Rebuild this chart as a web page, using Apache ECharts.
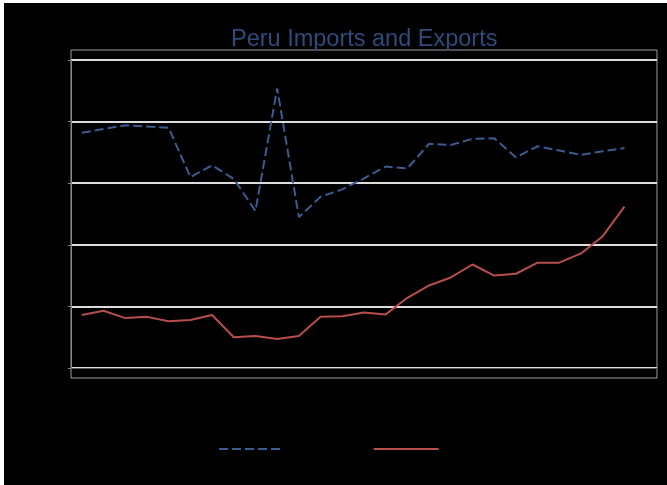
<!DOCTYPE html>
<html>
<head>
<meta charset="utf-8">
<script src="https://cdn.jsdelivr.net/npm/echarts@6/dist/echarts.min.js"></script>
<style>
  html, body { margin: 0; padding: 0; background: #ffffff; width: 667px; height: 485px; overflow: hidden; }
  #chart { position: absolute; left: 4px; top: 3px; width: 663px; height: 482px; background: #000000; }
</style>
</head>
<body>
<div id="chart"></div>
<script>
// Years on the category axis (the final year has no data yet)
const years = ['1990','1991','1992','1993','1994','1995','1996','1997','1998','1999',
  '2000','2001','2002','2003','2004','2005','2006','2007','2008','2009',
  '2010','2011','2012','2013','2014','2015','2016'];

// Imports (dashed blue)
const imports = [38.2, 38.8, 39.4, 39.2, 39.0, 31.0, 32.9, 30.7, 25.5, 45.4,
  24.5, 27.8, 29.0, 30.8, 32.7, 32.4, 36.4, 36.2, 37.2, 37.3,
  34.2, 36.0, 35.3, 34.6, 35.2, 35.7, null];

// Exports (solid red)
const exportsData = [8.6, 9.3, 8.1, 8.3, 7.6, 7.8, 8.6, 5.0, 5.2, 4.7,
  5.2, 8.3, 8.4, 9.0, 8.7, 11.4, 13.4, 14.7, 16.8, 15.0,
  15.3, 17.1, 17.1, 18.6, 21.4, 26.2, null];

const yTicks = { min: 0, max: 50, interval: 10 };

// Show a tick every fifth year, starting from the second one
const everyFifth = (idx) => idx % 5 === 1;

const chart = echarts.init(document.getElementById('chart'));
chart.setOption({
  backgroundColor: '#000000',
  animation: false,
  title: {
    text: 'Peru Imports and Exports',
    left: 227,
    top: 25,
    padding: 0,
    textStyle: {
      color: '#2e4b7c',
      fontFamily: 'Liberation Sans',
      fontSize: 23.5,
      fontWeight: 'normal'
    }
  },
  legend: {
    left: 209,
    top: 434,
    itemWidth: 65,
    itemHeight: 14,
    itemGap: 37,
    itemStyle: { opacity: 0 },
    textStyle: { color: '#000000', fontFamily: 'Liberation Sans', fontSize: 14 },
    data: ['Imports', 'Exports']
  },
  grid: { left: 67, right: 10, top: 57, bottom: 117 },
  graphic: [{
    type: 'rect',
    z: 0,
    shape: { x: 67, y: 47, width: 586, height: 328 },
    style: { fill: 'none', stroke: '#9a9a9a', lineWidth: 1 }
  }],
  xAxis: {
    type: 'category',
    data: years,
    boundaryGap: true,
    offset: 10,
    axisLine: { lineStyle: { color: '#5a5a5a', width: 1 } },
    axisTick: { alignWithLabel: true, interval: everyFifth, length: 3, lineStyle: { color: '#5a5a5a' } },
    axisLabel: { interval: everyFifth, color: '#000000', fontFamily: 'Liberation Sans', fontSize: 13 }
  },
  yAxis: {
    type: 'value',
    min: yTicks.min,
    max: yTicks.max,
    interval: yTicks.interval,
    axisLine: { show: true, lineStyle: { color: '#8a8a8a', width: 1 } },
    axisTick: { show: true, length: 3, lineStyle: { color: '#8a8a8a' } },
    axisLabel: { color: '#000000', fontFamily: 'Liberation Sans', fontSize: 13 },
    splitLine: { lineStyle: { color: '#dcdcdc', width: 2 } }
  },
  series: [
    {
      name: 'Imports',
      type: 'line',
      data: imports,
      symbol: 'none',
      lineStyle: { color: '#3a5c90', width: 2, type: [9, 4] },
      itemStyle: { color: '#3a5c90' },
      z: 3
    },
    {
      name: 'Exports',
      type: 'line',
      data: exportsData,
      symbol: 'none',
      lineStyle: { color: '#b84e4c', width: 2 },
      itemStyle: { color: '#b84e4c' },
      z: 3
    }
  ]
});
</script>
</body>
</html>
